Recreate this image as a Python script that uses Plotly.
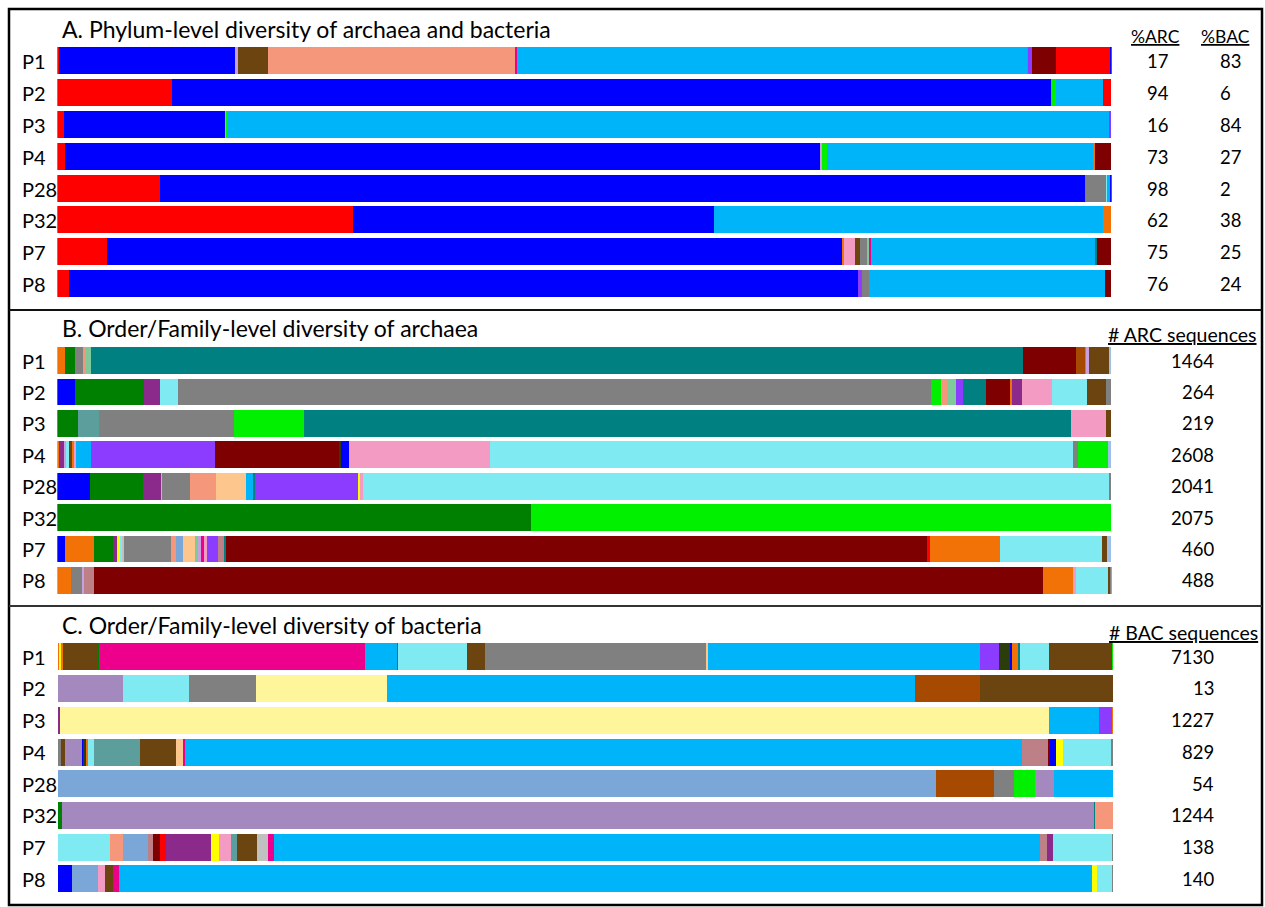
import plotly.graph_objects as go

W, H = 1265, 907
FONT = "Lato"

samples = ["P1", "P2", "P3", "P4", "P28", "P32", "P7", "P8"]

colors = {
    "red": "#ff0000", "blue": "#0000ff", "sky": "#00b4fa", "maroon": "#7f0000",
    "brown": "#6b4410", "salmon": "#f5977a", "gray": "#808080", "orange": "#f27207",
    "green": "#008000", "lime": "#00f000", "teal": "#008080", "cadet": "#5b9e9b",
    "cyan": "#7feaf2", "purple": "#8b2a8b", "violet": "#8b3cff", "pink": "#f39bc2",
    "peach": "#fcc68d", "mint": "#7fca9b", "rosy": "#bd8086", "sienna": "#a54a00",
    "lavender": "#a389be", "cornflower": "#7aa7d7", "cream": "#fff59a",
    "magenta": "#ec008c", "olive": "#2a3d0a", "yellow": "#ffff00", "steel": "#9ec0e8",
    "silver": "#c0c0c0", "lilac": "#c8a0e0",
}

# ---- Panel A: phylum-level relative abundance (%) ----
phylum = {
    "P1": [("red", 0.2), ("blue", 16.7), ("lilac", 0.3), ("brown", 2.8), ("salmon", 23.5), ("magenta", 0.1),
           ("sky", 48.4), ("gray", 0.1), ("violet", 0.4), ("maroon", 2.2), ("red", 5.2), ("blue", 0.1)],
    "P2": [("red", 10.9), ("blue", 83.4), ("lime", 0.4), ("sky", 4.5), ("red", 0.8)],
    "P3": [("red", 0.7), ("blue", 15.3), ("lilac", 0.1), ("lime", 0.1), ("sky", 83.6), ("violet", 0.2)],
    "P4": [("red", 0.8), ("blue", 71.6), ("lilac", 0.2), ("lime", 0.4), ("sky", 25.3), ("orange", 0.1), ("maroon", 1.6)],
    "P28": [("red", 9.8), ("blue", 87.7), ("gray", 2.0), ("cyan", 0.1), ("sky", 0.3), ("blue", 0.1)],
    "P32": [("red", 28.1), ("blue", 34.3), ("sky", 36.9), ("orange", 0.8)],
    "P7": [("red", 4.7), ("blue", 69.9), ("orange", 0.1), ("pink", 1.1), ("brown", 0.4), ("gray", 0.7), ("mint", 0.2),
           ("magenta", 0.2), ("sky", 21.2), ("teal", 0.2), ("maroon", 1.4)],
    "P8": [("red", 1.1), ("blue", 74.9), ("violet", 0.3), ("gray", 0.7), ("sky", 22.4), ("maroon", 0.6)],
}
pct_arc = [17, 94, 16, 73, 98, 62, 75, 76]
pct_bac = [83, 6, 84, 27, 2, 38, 25, 24]

# ---- Panel B: archaea order/family (%) ----
archaea = {
    "P1": [("orange", 0.8), ("green", 0.9), ("gray", 0.8), ("salmon", 0.2), ("mint", 0.5), ("teal", 88.4),
           ("maroon", 5.0), ("sienna", 0.9), ("orange", 0.1), ("lilac", 0.3), ("brown", 1.9), ("steel", 0.2)],
    "P2": [("blue", 1.7), ("green", 6.6), ("purple", 1.5), ("cyan", 1.7), ("gray", 71.5), ("lime", 0.9),
           ("salmon", 0.6), ("mint", 0.8), ("violet", 0.7), ("teal", 2.2), ("maroon", 2.3), ("orange", 0.2),
           ("purple", 0.9), ("pink", 2.9), ("cyan", 3.3), ("brown", 1.8), ("gray", 0.5)],
    "P3": [("green", 2.0), ("cadet", 2.0), ("gray", 12.8), ("lime", 6.6), ("teal", 72.7), ("pink", 3.3), ("brown", 0.5)],
    "P4": [("orange", 0.2), ("purple", 0.5), ("lilac", 0.2), ("cyan", 0.2), ("brown", 0.3), ("orange", 0.2),
           ("pink", 0.2), ("sky", 1.4), ("violet", 11.8), ("maroon", 11.8), ("olive", 0.2), ("blue", 0.7),
           ("pink", 13.4), ("cyan", 55.4), ("gray", 0.4), ("lime", 2.9), ("steel", 0.3)],
    "P28": [("blue", 3.1), ("green", 5.1), ("purple", 1.7), ("steel", 0.1), ("gray", 2.6), ("salmon", 2.5),
            ("peach", 2.8), ("sky", 0.7), ("teal", 0.2), ("violet", 9.8), ("yellow", 0.1), ("pink", 0.3),
            ("cyan", 70.8), ("gray", 0.2)],
    "P32": [("green", 45.0), ("lime", 55.0)],
    "P7": [("blue", 0.8), ("orange", 2.7), ("green", 1.8), ("purple", 0.4), ("yellow", 0.3), ("cyan", 0.2),
           ("silver", 0.2), ("gray", 4.4), ("salmon", 0.5), ("cornflower", 0.7), ("peach", 1.1), ("mint", 0.3),
           ("lilac", 0.3), ("magenta", 0.3), ("pink", 0.3), ("violet", 1.0), ("rosy", 0.6), ("teal", 0.2),
           ("maroon", 66.7), ("red", 0.2), ("orange", 6.7), ("cyan", 9.7), ("brown", 0.5), ("steel", 0.4)],
    "P8": [("orange", 1.3), ("gray", 1.1), ("lilac", 0.2), ("rosy", 0.9), ("maroon", 90.0), ("orange", 2.9),
           ("pink", 0.2), ("cyan", 3.1), ("brown", 0.2), ("gray", 0.1)],
}
arc_sequences = [1464, 264, 219, 2608, 2041, 2075, 460, 488]

# ---- Panel C: bacteria order/family (%) ----
bacteria = {
    "P1": [("orange", 0.1), ("yellow", 0.2), ("orange", 0.2), ("brown", 3.2), ("green", 0.2), ("magenta", 25.2),
           ("sky", 3.1), ("teal", 0.1), ("cyan", 6.5), ("brown", 1.7), ("gray", 21.0), ("peach", 0.2),
           ("sky", 25.8), ("violet", 1.8), ("olive", 1.0), ("blue", 0.2), ("orange", 0.6), ("teal", 0.2),
           ("cyan", 2.7), ("brown", 6.0), ("lime", 0.1)],
    "P2": [("lavender", 6.2), ("cyan", 6.2), ("gray", 6.3), ("cream", 12.4), ("sky", 50.0), ("sienna", 6.2), ("brown", 12.6)],
    "P3": [("purple", 0.2), ("cream", 93.5), ("sky", 4.8), ("violet", 1.2), ("orange", 0.1)],
    "P4": [("gray", 0.3), ("brown", 0.4), ("lavender", 1.6), ("blue", 0.1), ("olive", 0.3), ("orange", 0.1),
           ("cyan", 0.6), ("cadet", 4.4), ("brown", 3.4), ("peach", 0.6), ("magenta", 0.2), ("sky", 79.4),
           ("rosy", 2.4), ("maroon", 0.2), ("blue", 0.6), ("yellow", 0.6), ("cyan", 4.6), ("gray", 0.2)],
    "P28": [("cornflower", 83.2), ("sienna", 5.5), ("gray", 1.9), ("lime", 2.0), ("lavender", 1.8), ("sky", 5.6)],
    "P32": [("green", 0.4), ("lavender", 97.8), ("teal", 0.1), ("salmon", 1.7)],
    "P7": [("cyan", 4.9), ("salmon", 1.2), ("cornflower", 2.4), ("rosy", 0.5), ("maroon", 0.6), ("red", 0.6),
           ("purple", 4.3), ("yellow", 0.7), ("pink", 1.2), ("cadet", 0.5), ("brown", 1.9), ("silver", 1.1),
           ("magenta", 0.5), ("sky", 72.5), ("rosy", 0.6), ("purple", 0.6), ("cyan", 5.6), ("gray", 0.1)],
    "P8": [("blue", 1.3), ("cornflower", 2.5), ("pink", 0.7), ("brown", 0.7), ("magenta", 0.6), ("sky", 92.3),
           ("yellow", 0.5), ("cyan", 1.4), ("gray", 0.1)],
}
bac_sequences = [7130, 13, 1227, 829, 54, 1244, 138, 140]


def px(x):
    return x / W


def py(y):
    return 1 - y / H


panels = [
    # data, axis suffix, x domain px, y top px, y bottom px, title, title y px
    (phylum, "", (57.3, 1111.7), 45.4, 299.9, "A. Phylum-level diversity of archaea and bacteria", 29),
    (archaea, "2", (57.3, 1111.7), 345.0, 596.0, "B. Order/Family-level diversity of archaea", 328),
    (bacteria, "3", (57.8, 1113.0), 640.9, 894.7, "C. Order/Family-level diversity of bacteria", 625),
]

TITLE_SIZE = 23
LABEL_SIZE = 20
VALUE_SIZE = 18.5

fig = go.Figure()
annotations = []
layout = {}

for data, sfx, (x0, x1), ytop, ybot, title, ty in panels:
    ys, xs, bases, cols = [], [], [], []
    for i, s in enumerate(samples):
        segs = data[s]
        total = sum(v for _, v in segs)
        acc = 0.0
        for key, v in segs:
            val = v / total * 100
            ys.append(i)
            xs.append(val)
            bases.append(acc)
            cols.append(colors[key])
            acc += val
    fig.add_trace(go.Bar(
        y=ys, x=xs, base=bases, orientation="h", width=0.85,
        marker=dict(color=cols, line=dict(width=0)),
        xaxis="x" + sfx, yaxis="y" + sfx, showlegend=False, hoverinfo="skip",
    ))
    layout["xaxis" + sfx] = dict(domain=[px(x0), px(x1)], range=[0, 100], visible=False,
                                 anchor="y" + sfx, fixedrange=True)
    layout["yaxis" + sfx] = dict(domain=[py(ybot), py(ytop)], range=[7.5, -0.5], visible=False,
                                 anchor="x" + sfx, fixedrange=True)
    # panel title
    annotations.append(dict(x=px(60), y=py(ty), xref="paper", yref="paper", text=title,
                            showarrow=False, xanchor="left", yanchor="middle",
                            font=dict(family=FONT, size=TITLE_SIZE, color="#000")))
    # row labels
    for i, s in enumerate(samples):
        annotations.append(dict(x=px(20), y=i, xref="paper", yref="y" + sfx, text=s,
                                showarrow=False, xanchor="left", yanchor="middle",
                                font=dict(family=FONT, size=LABEL_SIZE, color="#000")))

# right-hand columns
annotations.append(dict(x=px(1155), y=py(36), xref="paper", yref="paper", text="<u>%ARC</u>",
                        showarrow=False, xanchor="center", yanchor="middle",
                        font=dict(family=FONT, size=17.5, color="#000")))
annotations.append(dict(x=px(1225), y=py(36), xref="paper", yref="paper", text="<u>%BAC</u>",
                        showarrow=False, xanchor="center", yanchor="middle",
                        font=dict(family=FONT, size=17.5, color="#000")))
for i in range(len(samples)):
    annotations.append(dict(x=px(1145), y=i, xref="paper", yref="y", text=str(pct_arc[i]),
                            showarrow=False, xanchor="left", yanchor="middle",
                            font=dict(family=FONT, size=VALUE_SIZE, color="#000")))
    annotations.append(dict(x=px(1218), y=i, xref="paper", yref="y", text=str(pct_bac[i]),
                            showarrow=False, xanchor="left", yanchor="middle",
                            font=dict(family=FONT, size=VALUE_SIZE, color="#000")))
    annotations.append(dict(x=px(1216), y=i, xref="paper", yref="y2", text=str(arc_sequences[i]),
                            showarrow=False, xanchor="right", yanchor="middle",
                            font=dict(family=FONT, size=VALUE_SIZE, color="#000")))
    annotations.append(dict(x=px(1216), y=i, xref="paper", yref="y3", text=str(bac_sequences[i]),
                            showarrow=False, xanchor="right", yanchor="middle",
                            font=dict(family=FONT, size=VALUE_SIZE, color="#000")))
annotations.append(dict(x=px(1259), y=py(334), xref="paper", yref="paper", text="<u># ARC sequences</u>",
                        showarrow=False, xanchor="right", yanchor="middle",
                        font=dict(family=FONT, size=19.5, color="#000")))
annotations.append(dict(x=px(1260), y=py(632), xref="paper", yref="paper", text="<u># BAC sequences</u>",
                        showarrow=False, xanchor="right", yanchor="middle",
                        font=dict(family=FONT, size=19.5, color="#000")))

shapes = [
    dict(type="rect", xref="paper", yref="paper", x0=px(9), x1=px(1262), y0=py(905), y1=py(9),
         line=dict(color="#000", width=2.5), fillcolor="rgba(0,0,0,0)"),
    dict(type="line", xref="paper", yref="paper", x0=px(9), x1=px(1262), y0=py(310), y1=py(310),
         line=dict(color="#111", width=2)),
    dict(type="line", xref="paper", yref="paper", x0=px(9), x1=px(1262), y0=py(606), y1=py(606),
         line=dict(color="#333", width=2)),
]

fig.update_layout(
    width=W, height=H, margin=dict(l=0, r=0, t=0, b=0),
    paper_bgcolor="white", plot_bgcolor="white",
    barmode="overlay", bargap=0,
    annotations=annotations, shapes=shapes,
    font=dict(family=FONT),
    **layout,
)

fig.write_html("out.html")
